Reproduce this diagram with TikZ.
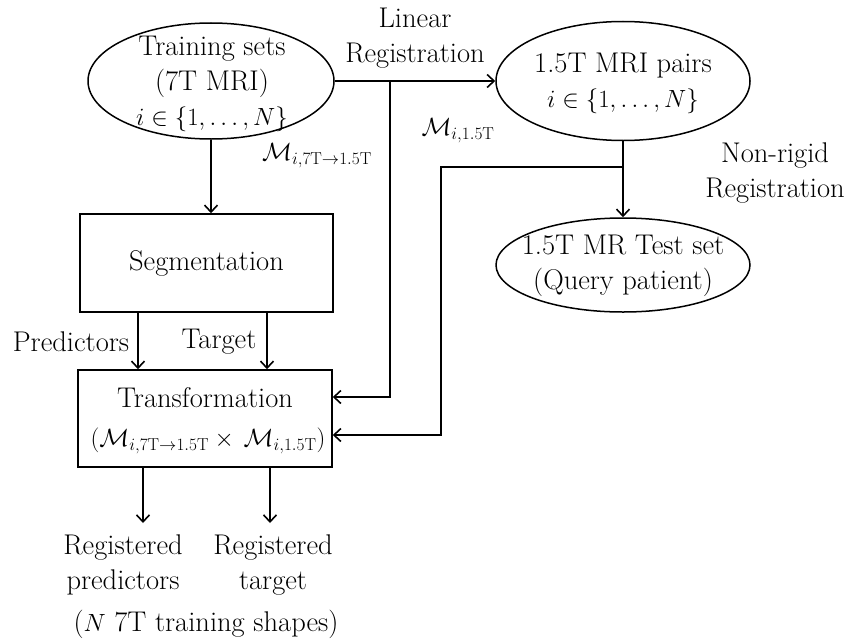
\documentclass[tikz,border=0pt]{standalone}
\usetikzlibrary{shapes.geometric,arrows.meta}
\newcommand{\MM}{\mathcal{M}}
\newcommand{\rmT}{\mathrm{T}}
\begin{document}
\begin{tikzpicture}[x=1pt,y=-1pt,
  every node/.style={font=\fontsize{28.5}{35}\selectfont, inner sep=0pt},
  mlab/.style={font=\fontsize{26}{30}\selectfont},
  ell/.style={draw, ellipse, line width=1.5pt, inner sep=0pt},
  blk/.style={draw, rectangle, line width=1.5pt},
  txt/.style={align=center},
  conn/.style={line width=1.6pt},
  arr/.style={conn, -{Straight Barb[length=7pt,width=13pt,line width=1.6pt]}}
]
\useasboundingbox (0,0) rectangle (850,642);
% ellipses
\node[ell, minimum width=246pt, minimum height=116pt] (e1) at (211,81) {};
\node[txt] (e1t) at (212,84) {Training sets\\(7T MRI)\\$i\in\{1,\ldots,N\}$};
\node[ell, minimum width=254pt, minimum height=119pt] (e2) at (623,81) {};
\node[txt] (e2t) at (623,83) {1.5T MRI pairs\\$i\in\{1,\ldots,N\}$};
\node[ell, minimum width=254pt, minimum height=94pt] (e3) at (623,265) {};
\node[txt] (e3t) at (623,266) {1.5T MR Test set\\(Query patient)};
% boxes
\node[blk, minimum width=253pt, minimum height=98pt] (seg) at (206.5,263) {};
\node (segt) at (206.5,263) {Segmentation};
\node[blk, minimum width=254pt, minimum height=97pt] (trans) at (205,418.5) {};
\node (transt) at (205,398) {Transformation};
\node (transf) at (208,441) {\fontsize{25}{28}\selectfont$(\MM_{i,7\rmT\to1.5\rmT}\times\,\MM_{i,1.5\rmT})$};
% labels
\node[txt] (lin) at (415,38) {Linear\\Registration};
\node[mlab] (m1) at (317,156) {$\MM_{i,7\rmT\to1.5\rmT}$};
\node[mlab] (m2) at (458,131) {$\MM_{i,1.5\rmT}$};
\node[txt] (nr) at (775,173) {Non-rigid\\Registration};
\node (pred) at (71,342) {Predictors};
\node (targ) at (219,342) {Target};
\node[txt] (rp) at (123,565) {Registered\\predictors};
\node[txt] (rt) at (273,565) {Registered\\target};
\node (ns) at (206,624) {($N$ 7T training shapes)};
% coordinates
\coordinate (b1) at (390,81);
\coordinate (b1d) at (390,397);
\coordinate (j2) at (623,167);
\coordinate (j2l) at (441,167);
\coordinate (j2d) at (441,435);
\coordinate (o1) at (143,523);
\coordinate (o2) at (270,523);
% connectors
\draw[arr] (e1.south) -- (e1.south |- seg.north);
\draw[arr] (e1.east) -- (e2.west);
\draw[arr] (b1) -- (b1d) -- (b1d -| trans.east);
\draw[arr] (e2.south) -- (e3.north);
\draw[arr] (j2) -- (j2l) -- (j2d) -- (j2d -| trans.east);
\draw[arr] (seg.south -| 138,0) -- (trans.north -| 138,0);
\draw[arr] (seg.south -| 267,0) -- (trans.north -| 267,0);
\draw[arr] (trans.south -| o1) -- (o1);
\draw[arr] (trans.south -| o2) -- (o2);
\end{tikzpicture}
\end{document}
